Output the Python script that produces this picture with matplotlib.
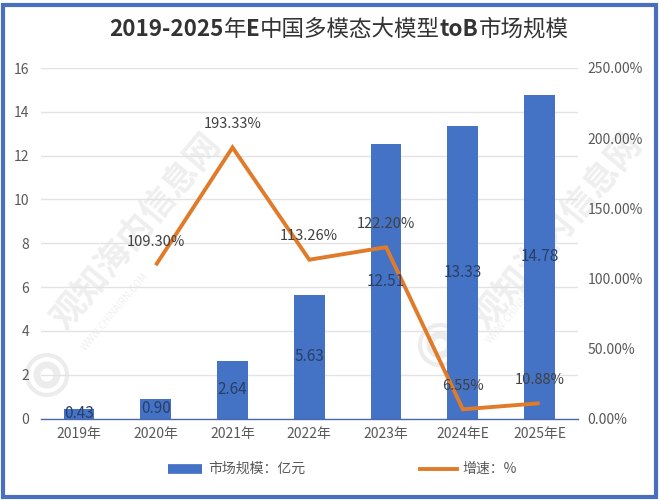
#!/usr/bin/env python3
import matplotlib
matplotlib.use('Agg')
import matplotlib.pyplot as plt
from matplotlib.patches import Rectangle, Circle

plt.rcParams['font.family'] = ['Noto Sans CJK SC', 'DejaVu Sans']

years = ["2019年", "2020年", "2021年", "2022年", "2023年", "2024年E", "2025年E"]
market = [0.43, 0.90, 2.64, 5.63, 12.51, 13.33, 14.78]
growth = [None, 109.30, 193.33, 113.26, 122.20, 6.55, 10.88]

fig = plt.figure(figsize=(6.59, 5.0), dpi=100)
ax = fig.add_axes([40.6 / 659, 1 - 418.5 / 500, (578 - 40.6) / 659, 350.5 / 500])
ax.set_zorder(2)
x = list(range(len(years)))

# 水印
for wx, wy, sx, sy in [(137, 232, 115, 312), (558, 232, 520, 305)]:
    fig.text(wx / 659, 1 - wy / 500, "观知海内信息网", fontsize=25, color="#efefef", rotation=50,
             ha="center", va="center", fontweight="bold", zorder=0)
    fig.text(sx / 659, 1 - sy / 500, "WWW.CHINAIRN.COM", fontsize=7, color="#f0f0f0", rotation=50,
             ha="center", va="center", zorder=0)
for cx, cy in [(47, 375), (440, 345)]:
    for r, lw in [(20, 3), (10, 5)]:
        fig.add_artist(Circle((cx, 500 - cy), r, fill=False, ec="#ececec", lw=lw, zorder=0,
                              transform=matplotlib.transforms.IdentityTransform()))

ax.set_facecolor("none")
ax.bar(x, market, width=0.4, color="#4472C4", label="市场规模：亿元", zorder=2)
ax.set_xlim(-0.5, 6.5)
ax.set_ylim(0, 16)
ax.set_yticks(range(0, 17, 2))
ax.set_xticks(x)
ax.set_xticklabels(years)
ax.grid(axis="y", color="#e3e3e3", linewidth=1.0, zorder=1)
ax.set_axisbelow(True)
ax.tick_params(axis="both", length=0, labelsize=10, labelcolor="#595959")
ax.tick_params(axis="x", pad=6)
ax.tick_params(axis="y", pad=8)
for side in ["top", "right", "left"]:
    ax.spines[side].set_visible(False)
ax.spines["bottom"].set_color("#4a68ad")
ax.spines["bottom"].set_linewidth(1.0)

ax2 = ax.twinx()
ax2.set_zorder(3)
ax2.set_facecolor("none")
line_x = x[1:]
line_y = growth[1:]
ax2.plot(line_x, line_y, color="#E07B2A", linewidth=2.8, solid_joinstyle="miter",
         solid_capstyle="butt", label="增速：%", zorder=3)
ax2.set_ylim(0, 250)
ax2.set_yticks(range(0, 251, 50))
ax2.set_yticklabels([f"{v}.00%" for v in range(0, 251, 50)])
ax2.tick_params(axis="y", length=0, labelsize=10, labelcolor="#595959", pad=7)
for side in ["top", "right", "left", "bottom"]:
    ax2.spines[side].set_visible(False)

for i, v in zip(x, market):
    ax2.text(i, v / 2 * 250 / 16, f"{v:.2f}", ha="center", va="center", fontsize=11,
             color="#2a3f66", zorder=4)
for i, g in zip(line_x, line_y):
    ax2.annotate(f"{g:.2f}%", (i, g), xytext=(0, 17), textcoords="offset points",
                 ha="center", va="center", fontsize=10.5, color="#404040", zorder=5)

# 标题：西文加粗，中文常规
title_runs = [("2019-2025", "bold"), ("年", "normal"), ("E", "bold"), ("中国多模态大模型", "normal"),
              ("toB", "bold"), ("市场规模", "normal")]
renderer = fig.canvas.get_renderer()
run_texts = [fig.text(0, 1 - 29 / 500, s, fontsize=16.2, fontweight=w, color="#333333", va="center")
             for s, w in title_runs]
widths = [t.get_window_extent(renderer).width for t in run_texts]
pos = 339 - sum(widths) / 2
for t, w in zip(run_texts, widths):
    t.set_x(pos / 659)
    pos += w

# 图例
fig.add_artist(plt.Line2D([168 / 659, 202 / 659], [1 - 469 / 500] * 2, color="#4472C4", lw=7, solid_capstyle="butt"))
fig.text(208 / 659, 1 - 469 / 500, "市场规模：亿元", fontsize=10, color="#595959", va="center")
fig.add_artist(plt.Line2D([420 / 659, 457 / 659], [1 - 469 / 500] * 2, color="#E07B2A", lw=2.8))
fig.text(462 / 659, 1 - 469 / 500, "增速：%", fontsize=10, color="#595959", va="center")

# 外框
fig.add_artist(Rectangle((3 / 659, 3.5 / 500), 653 / 659, 492 / 500, fill=False, ec="#4a6fbe", lw=3,
                         transform=fig.transFigure))

fig.savefig("out.png", dpi=100)
plt.close(fig)
